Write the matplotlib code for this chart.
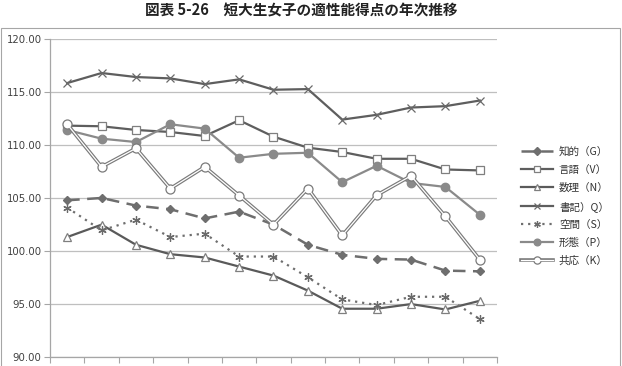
import numpy as np
import matplotlib
matplotlib.use("Agg")
import matplotlib.pyplot as plt
from matplotlib.patches import Rectangle
from matplotlib.legend_handler import HandlerTuple

plt.rcParams['font.family'] = ['Noto Sans CJK JP', 'DejaVu Sans']

# aptitude scores, 13 yearly points (no x labels in the source)
g_chiteki = [104.77, 104.99, 104.27, 103.92, 103.06, 103.70, 102.47, 100.57, 99.62, 99.24, 99.17, 98.13, 98.06]
v_gengo = [111.82, 111.76, 111.41, 111.22, 110.84, 112.33, 110.78, 109.74, 109.33, 108.69, 108.69, 107.68, 107.59]
n_suuri = [101.30, 102.47, 100.57, 99.68, 99.37, 98.51, 97.66, 96.24, 94.53, 94.53, 94.97, 94.46, 95.28]
q_shoki = [115.84, 116.79, 116.41, 116.28, 115.74, 116.19, 115.21, 115.27, 112.39, 112.84, 113.53, 113.66, 114.19]
s_kuukan = [104.08, 101.93, 102.94, 101.30, 101.62, 99.46, 99.46, 97.50, 95.41, 94.88, 95.66, 95.66, 93.55]
p_keitai = [111.41, 110.59, 110.27, 111.95, 111.54, 108.79, 109.16, 109.26, 106.48, 108.03, 106.41, 106.03, 103.41]
k_kyouou = [111.95, 107.93, 109.68, 105.88, 107.93, 105.22, 102.47, 105.88, 101.45, 105.25, 107.08, 103.25, 99.17]

labels = ["知的（G）", "言語（V）", "数理（N）", "書記）Q）", "空間（S）", "形態（P）", "共応（K）"]
title = "図表 5-26　短大生女子の適性能得点の年次推移"
yticks = [90, 95, 100, 105, 110, 115, 120]

x = np.arange(len(g_chiteki))

fig = plt.figure(figsize=(6.22, 3.66), dpi=100)
# outer chart frame
fig.patches.append(Rectangle((0.002, -0.02), 0.995, 0.943, transform=fig.transFigure,
                             fill=False, edgecolor="#a6a6a6", linewidth=0.8))
fig.text(0.485, 0.972, title, ha="center", va="center", fontsize=10.5,
         fontweight="bold", color="#222222")

ax = fig.add_axes([0.0804, 0.0254, 0.7186, 0.868])

handles = []
h, = ax.plot(x, g_chiteki, color="#6e6e6e", lw=1.8, ls=(0, (5, 3)),
             marker="D", ms=4.5, mfc="#6e6e6e", mec="#6e6e6e", zorder=3)
handles.append(h)
h, = ax.plot(x, v_gengo, color="#5e5e5e", lw=1.6,
             marker="s", ms=6, mfc="white", mec="#7f7f7f", mew=0.9, zorder=3)
handles.append(h)
h, = ax.plot(x, n_suuri, color="#5a5a5a", lw=1.6,
             marker="^", ms=5.5, mfc="white", mec="#7f7f7f", mew=0.9, zorder=3)
handles.append(h)
h, = ax.plot(x, q_shoki, color="#5e5e5e", lw=1.6,
             marker="x", ms=6, mec="#6a6a6a", mew=0.9, zorder=3)
handles.append(h)
h, = ax.plot(x, s_kuukan, color="#6e6e6e", lw=1.6, ls=(0, (1, 2.2)),
             marker=(6, 2, 0), ms=6, mec="#6a6a6a", mew=0.9, zorder=3)
handles.append(h)
h, = ax.plot(x, p_keitai, color="#8a8a8a", lw=1.6,
             marker="o", ms=6, mfc="#8a8a8a", mec="#8a8a8a", zorder=4)
handles.append(h)
k_outer, = ax.plot(x, k_kyouou, color="#7a7a7a", lw=2.6,
                   marker="o", ms=6.5, mfc="white", mec="#7a7a7a", mew=0.9, zorder=5)
k_inner, = ax.plot(x, k_kyouou, color="white", lw=0.9, zorder=6)
handles.append((k_outer, k_inner))

ax.set_xlim(-0.5, len(x) - 0.5)
ax.set_ylim(90, 120)
ax.set_xticks(np.arange(len(x) + 1) - 0.5)
ax.set_xticklabels([])
ax.set_yticks(yticks)
ax.set_yticklabels([f"{t:.2f}" for t in yticks], fontsize=7.3, color="#404040",
                   fontfamily="DejaVu Sans")
ax.tick_params(axis="both", direction="out", length=4, width=0.8, color="#a6a6a6", pad=2)
ax.grid(axis="y", color="#bfbfbf", lw=0.9)
ax.set_axisbelow(True)
for side in ["top", "right"]:
    ax.spines[side].set_visible(False)
for side in ["left", "bottom"]:
    ax.spines[side].set_color("#a6a6a6")
    ax.spines[side].set_linewidth(0.9)

fig.legend(handles, labels, loc="center left", bbox_to_anchor=(0.829, 0.437),
           frameon=False, fontsize=7.6, handlelength=3.0, handletextpad=0.6,
           labelspacing=0.74, borderpad=0, labelcolor="#333333", markerscale=0.8,
           handler_map={tuple: HandlerTuple(ndivide=1)})

fig.savefig("out.png", dpi=100)
